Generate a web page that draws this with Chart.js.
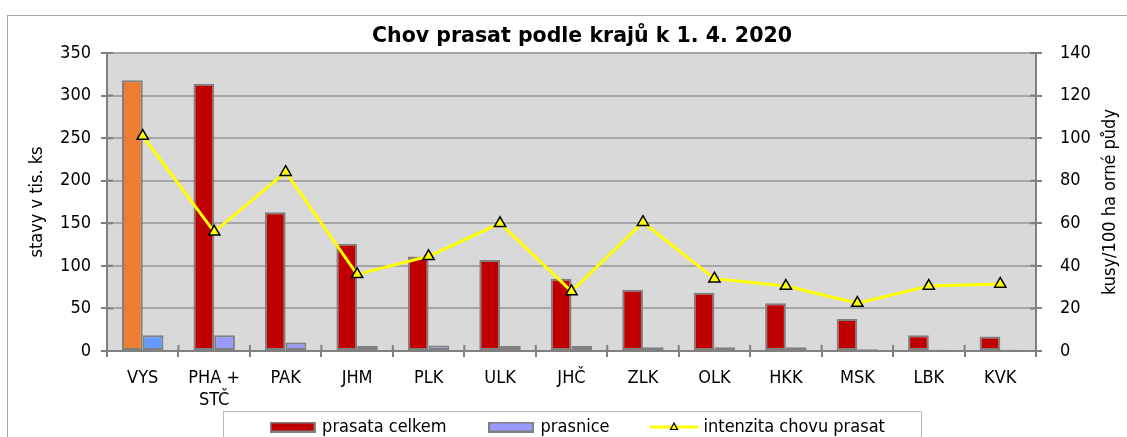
<!DOCTYPE html>
<html>
<head>
<meta charset="utf-8">
<script src="https://cdn.jsdelivr.net/npm/chart.js@4.4.1/dist/chart.umd.min.js"></script>
<style>
  html, body { margin: 0; padding: 0; background: #fff; overflow: hidden; width: 1127px; height: 437px; }
  #frame { position: absolute; left: 7px; top: 15px; width: 1140px; height: 500px; border: 1px solid #A6A6A6; box-sizing: border-box; }
  #wrap { position: absolute; left: 0; top: 0; width: 1127px; height: 483px; }
</style>
</head>
<body>
<div id="frame"></div>
<div id="wrap"><canvas id="c" width="1127" height="483"></canvas></div>
<script>
const categories = ['VYS', ['PHA +', 'STČ'], 'PAK', 'JHM', 'PLK', 'ULK', 'JHČ', 'ZLK', 'OLK', 'HKK', 'MSK', 'LBK', 'KVK'];
const prasataCelkem = [318, 314, 163, 126, 111, 107, 85, 72, 68.5, 56, 37.5, 18.5, 17];
const prasnice = [18.5, 18.5, 10, 6, 6.5, 6, 6, 4.5, 4.5, 4.5, 2, 1.5, 1.5];
const intenzita = [101, 56, 84, 36, 44.5, 60, 28, 60.5, 34, 30.5, 22.5, 30.5, 31.5];
const leftTicksMax = 350, leftStep = 50;
const rightTicksMax = 140, rightStep = 20;
const seriesNames = ['prasata celkem', 'prasnice', 'intenzita chovu prasat'];
const titleText = 'Chov prasat podle krajů k 1. 4. 2020';
const leftAxisTitle = 'stavy v tis. ks';
const rightAxisTitle = 'kusy/100 ha orné půdy';

const FONT = '"DejaVu Sans Condensed", "DejaVu Sans", sans-serif';
const TFONT = '"DejaVu Sans", sans-serif';
const AXIS = '#808080';
const LEGEND_PAD = 44;

const redCols = categories.map((c, i) => i === 0 ? '#ED7D31' : '#C00000');
const blueCols = categories.map((c, i) => i === 0 ? '#6699FF' : '#9999FF');

function swatch(fill) {
  const cv = document.createElement('canvas');
  cv.width = 46; cv.height = 11;
  const g = cv.getContext('2d');
  g.fillStyle = '#808080'; g.fillRect(0, 0, 46, 11);
  g.fillStyle = fill; g.fillRect(2, 2, 42, 7);
  return cv;
}
function lineSwatch() {
  const cv = document.createElement('canvas');
  cv.width = 48; cv.height = 12;
  const g = cv.getContext('2d');
  g.strokeStyle = '#FFFF00'; g.lineWidth = 3;
  g.beginPath(); g.moveTo(0, 6); g.lineTo(48, 6); g.stroke();
  g.fillStyle = '#FFFF00'; g.strokeStyle = '#000'; g.lineWidth = 1.2;
  g.beginPath(); g.moveTo(24, 2); g.lineTo(27.5, 8.5); g.lineTo(20.5, 8.5); g.closePath(); g.fill(); g.stroke();
  return cv;
}

const bgPlugin = {
  id: 'bg',
  beforeDraw(chart) {
    const {ctx, chartArea: a} = chart;
    ctx.save(); ctx.fillStyle = '#D9D9D9';
    ctx.fillRect(a.left, a.top, a.right - a.left, a.bottom - a.top);
    ctx.restore();
  },
  afterLayout(chart) {
    const lg = chart.legend;
    if (lg) { lg.top -= 37; lg.bottom -= 37; lg.left -= 7; lg.width += 7; }
  }
};
const extrasPlugin = {
  id: 'extras',
  afterDraw(chart) {
    const {ctx, chartArea: a, scales} = chart;
    ctx.save();
    ctx.strokeStyle = AXIS; ctx.lineWidth = 2;
    ctx.beginPath();
    for (let v = 0; v <= leftTicksMax; v += leftStep) {
      const p = scales.y.getPixelForValue(v);
      ctx.moveTo(a.left, p); ctx.lineTo(a.left + 6, p);
    }
    for (let v = 0; v <= rightTicksMax; v += rightStep) {
      const p = scales.y1.getPixelForValue(v);
      ctx.moveTo(a.right - 6, p); ctx.lineTo(a.right, p);
    }
    for (let i = 0; i <= categories.length; i++) {
      const p = scales.x.getPixelForValue(i - 0.5);
      ctx.moveTo(p, a.bottom - 6); ctx.lineTo(p, a.bottom);
    }
    ctx.stroke();
    ctx.fillStyle = '#000';
    ctx.font = '18px ' + FONT;
    ctx.textAlign = 'center'; ctx.textBaseline = 'middle';
    ctx.translate(scales.y1.right - 17, (a.top + a.bottom) / 2);
    ctx.rotate(-Math.PI / 2);
    ctx.fillText(rightAxisTitle, 0, 0);
    ctx.restore();
    const lg = chart.legend;
    if (lg && lg.legendHitBoxes && lg.legendHitBoxes.length) {
      const hb = lg.legendHitBoxes;
      const l = hb[0].left - 49, r = hb[hb.length - 1].left + hb[hb.length - 1].width + 36;
      ctx.save();
      ctx.strokeStyle = '#B8B8B8'; ctx.lineWidth = 1;
      ctx.strokeRect(Math.round(l) + 0.5, Math.round(lg.top + LEGEND_PAD - 7) + 0.5, Math.round(r - l), 60);
      ctx.restore();
    }
  }
};

new Chart(document.getElementById('c'), {
  data: {
    labels: categories,
    datasets: [
      { type: 'bar', label: seriesNames[0], data: prasataCelkem, yAxisID: 'y', backgroundColor: redCols,
        borderColor: AXIS, borderWidth: 2, borderSkipped: false, order: 2,
        categoryPercentage: 0.58, barPercentage: 1.0 },
      { type: 'bar', label: seriesNames[1], data: prasnice, yAxisID: 'y', backgroundColor: blueCols,
        borderColor: AXIS, borderWidth: 2, borderSkipped: false, order: 2,
        categoryPercentage: 0.58, barPercentage: 1.0 },
      { type: 'line', label: seriesNames[2], data: intenzita, yAxisID: 'y1', borderColor: '#FFFF00', borderWidth: 3,
        pointStyle: 'triangle', pointRadius: 6.5, pointBackgroundColor: '#FFFF00', pointBorderColor: '#000',
        pointBorderWidth: 1.5, tension: 0, order: 0 }
    ]
  },
  options: {
    responsive: false, animation: false, devicePixelRatio: 1,
    layout: { padding: { left: 37, right: 0, top: 0, bottom: 0 } },
    plugins: {
      tooltip: { enabled: false },
      title: { display: true, text: titleText, color: '#000', font: { family: TFONT, size: 20.5, weight: 'bold' },
        padding: { top: 24, bottom: 4.4 } },
      legend: {
        position: 'bottom',
        labels: {
          color: '#000', font: { family: FONT, size: 18 }, padding: LEGEND_PAD,
          usePointStyle: true, pointStyleWidth: 41, boxHeight: 10,
          generateLabels: () => [
            { text: seriesNames[0], pointStyle: swatch('#C00000'), fillStyle: '#C00000', strokeStyle: '#C00000', lineWidth: 0, datasetIndex: 0, hidden: false, fontColor: '#000' },
            { text: seriesNames[1], pointStyle: swatch('#9999FF'), fillStyle: '#9999FF', strokeStyle: '#9999FF', lineWidth: 0, datasetIndex: 1, hidden: false, fontColor: '#000' },
            { text: seriesNames[2], pointStyle: lineSwatch(), fillStyle: '#FFFF00', strokeStyle: '#FFFF00', lineWidth: 0, datasetIndex: 2, hidden: false, fontColor: '#000' }
          ]
        }
      }
    },
    scales: {
      x: {
        type: 'category', offset: true,
        grid: { offset: true, drawOnChartArea: false, drawTicks: true, tickLength: 6, color: AXIS, lineWidth: 2 },
        border: { display: true, color: AXIS, width: 2 },
        ticks: { color: '#000', font: { family: FONT, size: 18 }, padding: 11, maxRotation: 0, autoSkip: false },
        afterFit: s => { s.height = 60; }
      },
      y: {
        position: 'left', min: 0, max: leftTicksMax,
        ticks: { stepSize: leftStep, color: '#000', font: { family: FONT, size: 18 }, padding: 10 },
        grid: { color: '#A6A6A6', lineWidth: 2, tickLength: 6, tickColor: AXIS },
        border: { display: true, color: AXIS, width: 2 },
        title: { display: true, text: leftAxisTitle, color: '#000', font: { family: FONT, size: 18 }, padding: { top: -10, bottom: 0 } },
        afterFit: s => { s.width = 70; }
      },
      y1: {
        position: 'right', min: 0, max: rightTicksMax,
        ticks: { stepSize: rightStep, color: '#000', font: { family: FONT, size: 18 }, padding: 18 },
        grid: { drawOnChartArea: false, lineWidth: 2, tickLength: 6, color: AXIS },
        border: { display: true, color: AXIS, width: 2 },
        afterFit: s => { s.width = 91; }
      }
    }
  },
  plugins: [bgPlugin, extrasPlugin]
});
</script>
</body>
</html>
